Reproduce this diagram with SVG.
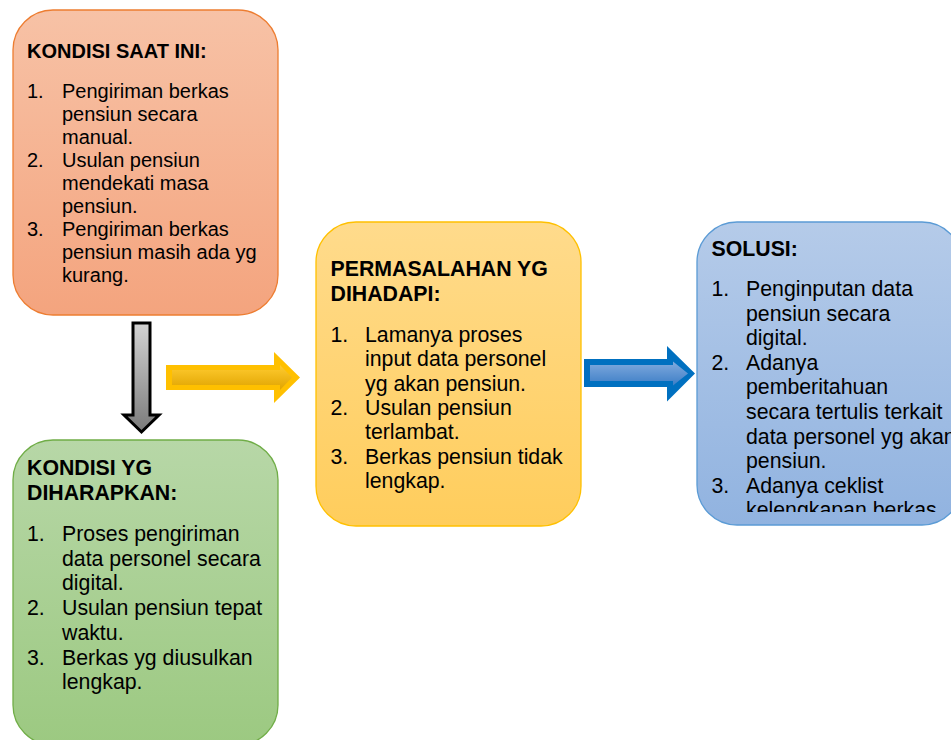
<svg xmlns="http://www.w3.org/2000/svg" width="951" height="740" viewBox="0 0 951 740">
<defs>
<linearGradient id="gO" x1="0" y1="0" x2="0" y2="1"><stop offset="0" stop-color="#f7c2a6"/><stop offset="1" stop-color="#f4a47e"/></linearGradient>
<linearGradient id="gG" x1="0" y1="0" x2="0" y2="1"><stop offset="0" stop-color="#b7d7a7"/><stop offset="1" stop-color="#9cc981"/></linearGradient>
<linearGradient id="gY" x1="0" y1="0" x2="0" y2="1"><stop offset="0" stop-color="#ffdb8c"/><stop offset="1" stop-color="#ffcd5c"/></linearGradient>
<linearGradient id="gB" x1="0" y1="0" x2="0" y2="1"><stop offset="0" stop-color="#b5cbe9"/><stop offset="1" stop-color="#91b3e0"/></linearGradient>
<linearGradient id="gGray" x1="0" y1="0" x2="0" y2="1"><stop offset="0" stop-color="#d4d4d4"/><stop offset="1" stop-color="#7a7a7a"/></linearGradient>
<linearGradient id="gYA" x1="0" y1="0" x2="0" y2="1"><stop offset="0" stop-color="#ffcb30"/><stop offset="1" stop-color="#e0a400"/></linearGradient>
<linearGradient id="gBA" x1="0" y1="0" x2="0" y2="1"><stop offset="0" stop-color="#80aade"/><stop offset="1" stop-color="#3d7ec6"/></linearGradient>
<clipPath id="clipB"><rect x="697" y="222" width="260" height="290"/></clipPath>
</defs>
<style>
.t{font-family:"Liberation Sans",Arial,sans-serif;fill:#000}
.s20{font-size:20px}
.s21{font-size:21.3px}
.b{font-weight:bold}
</style>
<rect width="951" height="740" fill="#fff"/>

<g id="connectors">
<path d="M133,323 H150 V415 H159 L141.5,432 L124,415 H133 Z" fill="url(#gGray)" stroke="#000" stroke-width="3" stroke-linejoin="miter"/>
<polygon points="166,365 274,365 274,352 300,377.5 274,403 274,390 166,390" fill="#ffc000"/>
<polygon points="172,370 280,370 280,365 292,377.5 280,390 280,385 172,385" fill="url(#gYA)"/>
<polygon points="584,359 667,359 667,346 695,373.5 667,401.5 667,387 584,387" fill="#0070c0"/>
<polygon points="590,365 673,365 673,361.5 688,373.5 673,385.5 673,381 590,381" fill="url(#gBA)"/>
</g>

<g id="kondisi-saat-ini">
<rect x="13" y="10" width="265" height="305" rx="40" ry="40" fill="url(#gO)" stroke="#ed7d31" stroke-width="1.3"/>
<text class="t s20 b" x="27" y="58">KONDISI SAAT INI:</text>
<text class="t s20">
<tspan x="27" y="98">1.</tspan><tspan x="62" y="98">Pengiriman berkas</tspan>
<tspan x="62" y="121">pensiun secara</tspan>
<tspan x="62" y="144">manual.</tspan>
<tspan x="27" y="167">2.</tspan><tspan x="62" y="167">Usulan pensiun</tspan>
<tspan x="62" y="190">mendekati masa</tspan>
<tspan x="62" y="213">pensiun.</tspan>
<tspan x="27" y="236">3.</tspan><tspan x="62" y="236">Pengiriman berkas</tspan>
<tspan x="62" y="259">pensiun masih ada yg</tspan>
<tspan x="62" y="282">kurang.</tspan>
</text>
</g>

<g id="kondisi-diharapkan">
<rect x="13" y="440" width="265" height="305" rx="40" ry="40" fill="url(#gG)" stroke="#70ad47" stroke-width="1.3"/>
<text class="t s21 b"><tspan x="27" y="475">KONDISI YG</tspan><tspan x="27" y="500">DIHARAPKAN:</tspan></text>
<text class="t s21">
<tspan x="27" y="541">1.</tspan><tspan x="62" y="541">Proses pengiriman</tspan>
<tspan x="62" y="565.7">data personel secara</tspan>
<tspan x="62" y="590.4">digital.</tspan>
<tspan x="27" y="615.1">2.</tspan><tspan x="62" y="615.1">Usulan pensiun tepat</tspan>
<tspan x="62" y="639.8">waktu.</tspan>
<tspan x="27" y="664.5">3.</tspan><tspan x="62" y="664.5">Berkas yg diusulkan</tspan>
<tspan x="62" y="689.2">lengkap.</tspan>
</text>
</g>

<g id="permasalahan">
<rect x="316" y="222" width="265" height="304" rx="40" ry="40" fill="url(#gY)" stroke="#ffc000" stroke-width="1.3"/>
<text class="t s21 b"><tspan x="330.5" y="276">PERMASALAHAN YG</tspan><tspan x="330.5" y="300.7">DIHADAPI:</tspan></text>
<text class="t s21">
<tspan x="330.5" y="341.7">1.</tspan><tspan x="365" y="341.7">Lamanya proses</tspan>
<tspan x="365" y="366.1">input data personel</tspan>
<tspan x="365" y="390.5">yg akan pensiun.</tspan>
<tspan x="330.5" y="414.9">2.</tspan><tspan x="365" y="414.9">Usulan pensiun</tspan>
<tspan x="365" y="439.3">terlambat.</tspan>
<tspan x="330.5" y="463.7">3.</tspan><tspan x="365" y="463.7">Berkas pensiun tidak</tspan>
<tspan x="365" y="488.1">lengkap.</tspan>
</text>
</g>

<g id="solusi">
<rect x="697" y="222" width="265" height="303" rx="40" ry="40" fill="url(#gB)" stroke="#5b9bd5" stroke-width="1.3"/>
<g clip-path="url(#clipB)">
<text class="t s21 b" x="711.5" y="256">SOLUSI:</text>
<text class="t s21">
<tspan x="711.5" y="296">1.</tspan><tspan x="746" y="296">Penginputan data</tspan>
<tspan x="746" y="320.6">pensiun secara</tspan>
<tspan x="746" y="345.2">digital.</tspan>
<tspan x="711.5" y="369.8">2.</tspan><tspan x="746" y="369.8">Adanya</tspan>
<tspan x="746" y="394.4">pemberitahuan</tspan>
<tspan x="746" y="419">secara tertulis terkait</tspan>
<tspan x="746" y="443.6">data personel yg akan</tspan>
<tspan x="746" y="468.2">pensiun.</tspan>
<tspan x="711.5" y="492.8">3.</tspan><tspan x="746" y="492.8">Adanya ceklist</tspan>
<tspan x="746" y="517.4">kelengkapan berkas</tspan>
</text>
</g>
</g>
</svg>
